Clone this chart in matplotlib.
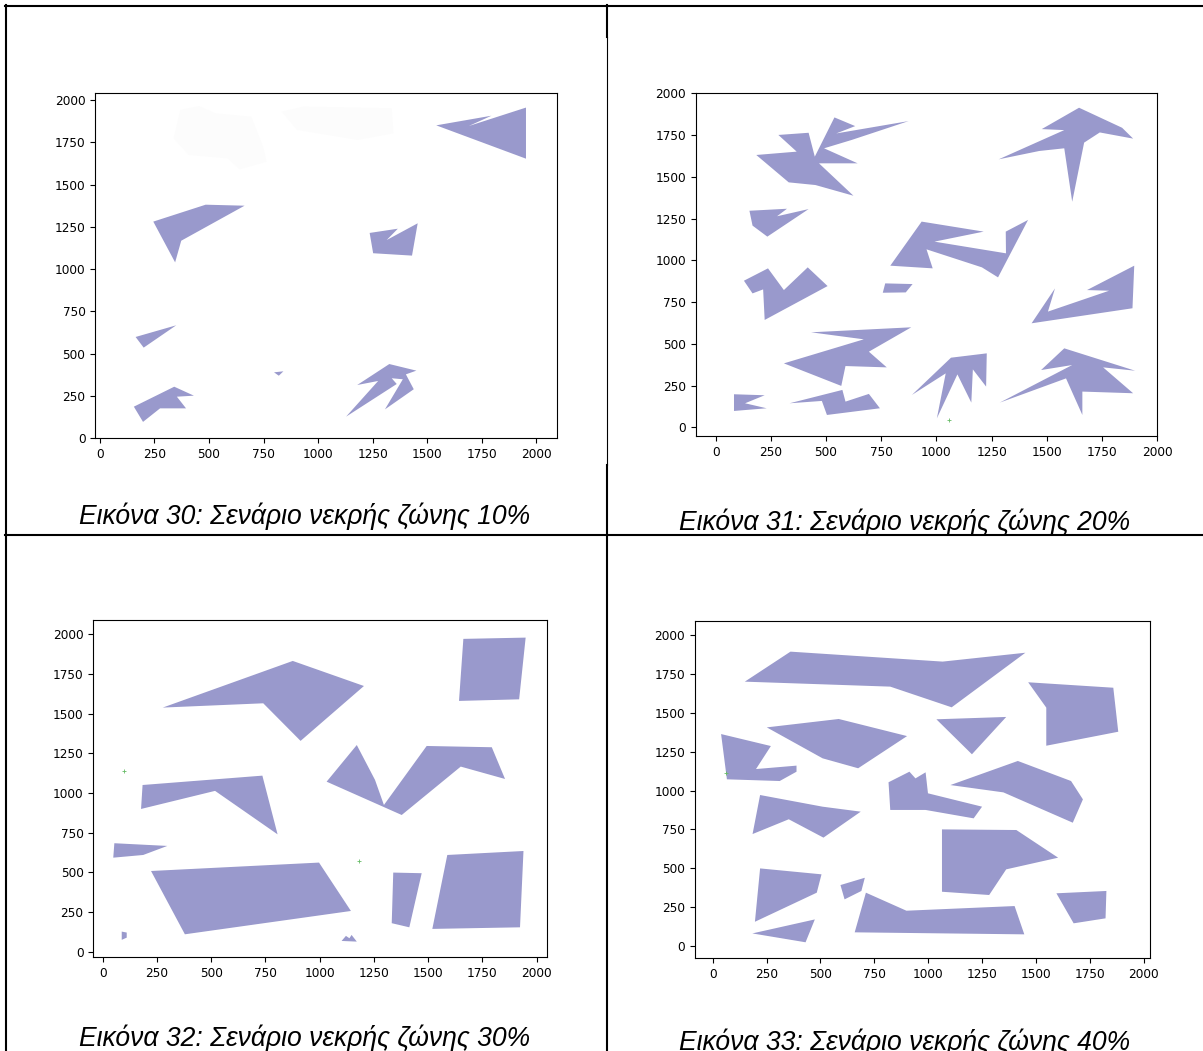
"""
Σενάρια νεκρής ζώνης 10% - 40%: χάρτες εμποδίων σε πίνακα 2x2 με λεζάντες.
"""
import matplotlib
matplotlib.use('Agg')
import matplotlib.pyplot as plt
from matplotlib.patches import Polygon
from matplotlib.lines import Line2D

W, H = 1203, 1051
FILL = '#9999cc'

# --- εμπόδια ανά σενάριο (κορυφές πολυγώνων σε μονάδες χάρτη) ---
ZONE_10 = [
    [(1541, 1850), (1794, 1907), (1690, 1846), (1952, 1955), (1952, 1653)],
    [(245, 1281), (485, 1381), (663, 1375), (373, 1168), (345, 1040)],
    [(1236, 1214), (1365, 1239), (1314, 1172), (1456, 1271), (1430, 1080), (1252, 1094)],
    [(164, 599), (350, 668), (201, 536)],
    [(798, 390), (841, 396), (820, 370)],
    [(156, 187), (341, 305), (431, 252), (353, 246), (395, 177), (276, 177), (198, 97)],
    [(1128, 128), (1275, 339), (1179, 315), (1326, 439), (1450, 400), (1402, 378),
     (1438, 290), (1306, 171), (1388, 349), (1337, 355), (1360, 321)],
]
# αχνά υπολείμματα στο πάνω μέρος του πρώτου σεναρίου
ZONE_10_FAINT = [
    [(369, 1941), (454, 1964), (531, 1921), (694, 1901), (748, 1724), (764, 1635),
     (640, 1590), (586, 1655), (407, 1675), (338, 1773)],
    [(833, 1931), (934, 1961), (1337, 1951), (1345, 1803), (1182, 1764), (903, 1823)],
]

ZONE_20 = [
    [(184, 1631), (367, 1651), (284, 1751), (421, 1764), (449, 1621), (538, 1856),
     (632, 1804), (546, 1760), (874, 1834), (616, 1721), (491, 1671), (643, 1581),
     (468, 1581), (624, 1387), (452, 1451), (331, 1467)],
    [(1282, 1605), (1579, 1780), (1477, 1786), (1646, 1914), (1841, 1794), (1891, 1729),
     (1740, 1766), (1669, 1705), (1615, 1351), (1579, 1671), (1466, 1655)],
    [(153, 1297), (323, 1309), (278, 1264), (421, 1307), (234, 1142), (167, 1208)],
    [(933, 1232), (1214, 1172), (991, 1112), (1315, 1042), (1314, 1172), (1415, 1242),
     (1279, 898), (1206, 958), (955, 1066), (983, 952), (791, 968)],
    [(128, 878), (237, 952), (309, 822), (417, 958), (507, 846), (222, 643),
     (215, 826), (167, 802)],
    [(768, 862), (892, 858), (861, 808), (757, 806)],
    [(1896, 968), (1888, 713), (1431, 623), (1537, 832), (1505, 693), (1782, 818), (1682, 822)],
    [(432, 569), (886, 599), (694, 453), (775, 359), (588, 367), (569, 248),
     (309, 383), (671, 527)],
    [(83, 198), (222, 192), (133, 144), (231, 114), (83, 98)],
    [(335, 144), (574, 224), (588, 154), (694, 200), (744, 114), (504, 74), (481, 158)],
    [(889, 194), (1066, 417), (1228, 443), (1225, 244), (1165, 347), (1158, 148),
     (1095, 317), (1002, 54), (1042, 323)],
    [(1287, 148), (1615, 373), (1474, 343), (1579, 473), (1900, 339), (1755, 359),
     (1891, 204), (1661, 214), (1661, 74), (1587, 293)],
]

ZONE_30 = [
    [(277, 1538), (876, 1832), (1204, 1674), (912, 1328), (740, 1565)],
    [(1662, 1971), (1949, 1979), (1919, 1590), (1642, 1580)],
    [(184, 1050), (736, 1109), (806, 739), (518, 1013), (177, 899)],
    [(1032, 1071), (1171, 1302), (1255, 1082), (1296, 924), (1493, 1296), (1793, 1288),
     (1854, 1088), (1650, 1166), (1378, 861)],
    [(54, 683), (298, 666), (187, 609), (49, 592)],
    [(223, 508), (997, 561), (1144, 256), (379, 109)],
    [(1339, 498), (1470, 494), (1413, 153), (1332, 179)],
    [(1588, 609), (1939, 634), (1923, 153), (1519, 143)],
    [(88, 126), (111, 120), (111, 88), (88, 74)],
    [(1101, 67), (1121, 99), (1137, 84), (1147, 105), (1171, 63)],
]

ZONE_40 = [
    [(149, 1700), (361, 1893), (1067, 1829), (1451, 1886), (1109, 1535), (824, 1668)],
    [(1464, 1696), (1859, 1661), (1882, 1378), (1548, 1288), (1548, 1533)],
    [(251, 1406), (585, 1460), (902, 1350), (675, 1143), (510, 1207)],
    [(1038, 1458), (1362, 1473), (1203, 1233)],
    [(39, 1363), (270, 1286), (201, 1138), (389, 1160), (389, 1121), (311, 1061), (66, 1072)],
    [(816, 1053), (913, 1121), (941, 1078), (988, 1117), (999, 982), (1250, 896),
     (1211, 821), (988, 875), (824, 875)],
    [(1103, 1035), (1416, 1190), (1663, 1061), (1718, 943), (1671, 793), (1349, 988)],
    [(220, 971), (510, 896), (687, 864), (514, 697), (353, 815), (185, 720)],
    [(1064, 750), (1409, 746), (1603, 568), (1362, 493), (1283, 328), (1064, 349)],
    [(220, 499), (505, 461), (483, 343), (196, 156)],
    [(593, 392), (706, 439), (690, 354), (612, 300)],
    [(711, 343), (899, 227), (1401, 257), (1446, 75), (659, 88)],
    [(1595, 339), (1827, 354), (1823, 178), (1675, 146)],
    [(184, 81), (474, 171), (431, 24)],
]

# μεμονωμένα πράσινα σημεία (x, y) ανά σενάριο
MARKS_20 = [(1058, 44)]
MARKS_30 = [(100, 1139), (1183, 574)]
MARKS_40 = [(60, 1110)]

CAPTIONS = [
    'Εικόνα 30: Σενάριο νεκρής ζώνης 10%',
    'Εικόνα 31: Σενάριο νεκρής ζώνης 20%',
    'Εικόνα 32: Σενάριο νεκρής ζώνης 30%',
    'Εικόνα 33: Σενάριο νεκρής ζώνης 40%',
]
TICKS = list(range(0, 2001, 250))


def px_axes(fig, left, top, right, bottom):
    """axes από συντεταγμένες pixel (αρχή πάνω αριστερά)"""
    return fig.add_axes([left / W, 1 - bottom / H, (right - left) / W, (bottom - top) / H])


def draw_map(ax, polys, xlim, ylim, faint=(), marks=()):
    for pts in faint:
        ax.add_patch(Polygon(pts, closed=True, facecolor='#fcfcfc', edgecolor='none'))
    for pts in polys:
        ax.add_patch(Polygon(pts, closed=True, facecolor=FILL, edgecolor='none'))
    for x, y in marks:
        ax.plot(x, y, '+', color='#66bb66', ms=3, mew=0.6)
    ax.set_xlim(*xlim)
    ax.set_ylim(*ylim)
    ax.set_xticks(TICKS)
    ax.set_yticks(TICKS)
    ax.tick_params(labelsize=8.7)


def hline(fig, y, x0, x1, lw=1.5):
    fig.add_artist(Line2D([x0 / W, x1 / W], [1 - y / H, 1 - y / H], color='black',
                          lw=lw, transform=fig.transFigure))


def vline(fig, x, y0, y1, lw=1.5):
    fig.add_artist(Line2D([x / W, x / W], [1 - y0 / H, 1 - y1 / H], color='black',
                          lw=lw, transform=fig.transFigure))


fig = plt.figure(figsize=(W / 100, H / 100), dpi=100, facecolor='white')

ax1 = px_axes(fig, 95.1, 92.7, 557.2, 438.3)
draw_map(ax1, ZONE_10, (-21.5, 2095), (0, 2043), faint=ZONE_10_FAINT)

ax2 = px_axes(fig, 695.8, 92.7, 1157.2, 436.0)
draw_map(ax2, ZONE_20, (-90, 2000), (-52, 2004), marks=MARKS_20)

ax3 = px_axes(fig, 93.3, 620.0, 546.7, 957.3)
draw_map(ax3, ZONE_30, (-43, 2046), (-36, 2090), marks=MARKS_30)

ax4 = px_axes(fig, 694.8, 620.7, 1149.5, 958.3)
draw_map(ax4, ZONE_40, (-83, 2027), (-79, 2092), marks=MARKS_40)

# πλαίσιο πίνακα
hline(fig, 5.5, 4.5, W)
hline(fig, 535, 4.5, W)
vline(fig, 5.5, 4.5, H)
vline(fig, 606.7, 4.5, 37)
vline(fig, 607.3, 37, 465, lw=0.8)
vline(fig, 606.7, 465, H)

# λεζάντες
cap_pos = [(79, 524.5), (679, 529.5), (79, 1045.5), (679, 1050.5)]
for (x, y), txt in zip(cap_pos, CAPTIONS):
    fig.text(x / W, 1 - y / H, txt, fontsize=19.1, style='italic',
             family='Liberation Sans', ha='left', va='baseline')

fig.savefig('out.png', dpi=100, facecolor='white')
plt.close(fig)
